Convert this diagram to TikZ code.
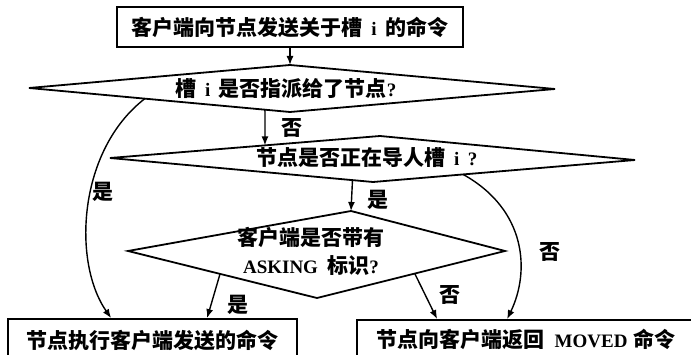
\documentclass[tikz,border=0pt]{standalone}
\usepackage{fontspec}
\setmainfont{Noto Sans CJK SC}
\newfontfamily\latf{Liberation Serif}
\usetikzlibrary{arrows.meta,calc}
\newcommand\myfs{\fontsize{21}{28}\selectfont\bfseries}
\newcommand\lt[1]{{\latf\bfseries\fontsize{19}{28}\selectfont #1}}
\begin{document}
\begin{tikzpicture}[x=1pt,y=-1pt,
  outline/.style={draw=black,line width=1.8pt,line join=miter},
  box/.style={outline,inner sep=0pt},
  txt/.style={inner sep=0pt,font=\myfs},
  conn/.style={line width=1.4pt,-{Latex[length=9pt,width=7pt]}},
  lbl/.style={inner sep=0pt,font=\myfs}]
\useasboundingbox (0,0) rectangle (691,355);
\clip (0,0) rectangle (691,355);
\fill[white] (0,0) rectangle (691,355);

% top box
\node[box,txt,minimum width=346pt,minimum height=40pt] (top) at (290,27)
  {客户端向节点发送关于槽\hspace{.4em}\lt{i}\hspace{.4em}的命令};

% diamond 1
\coordinate (d1t) at (290,65);
\coordinate (d1r) at (555,89);
\coordinate (d1b) at (290,112);
\coordinate (d1l) at (29,88);
\draw[outline] (d1t) -- (d1r) -- (d1b) -- (d1l) -- cycle;
\node[txt] (q1) at (286,89) {槽\hspace{.4em}\lt{i}\hspace{.4em}是否指派给了节点\lt{?}};

% diamond 2
\coordinate (d2t) at (380,136);
\coordinate (d2r) at (635,160);
\coordinate (d2b) at (373,182);
\coordinate (d2l) at (110,158);
\draw[outline] (d2t) -- (d2r) -- (d2b) -- (d2l) -- cycle;
\node[txt] (q2) at (367,158) {节点是否正在导人槽\hspace{.4em}\lt{i}\hspace{.4em}\lt{?}};

% diamond 3
\coordinate (d3t) at (351,211);
\coordinate (d3r) at (505,251);
\coordinate (d3b) at (317,298);
\coordinate (d3l) at (128,251);
\draw[outline] (d3t) -- (d3r) -- (d3b) -- (d3l) -- cycle;
\node[txt,align=center] (q3) at (311,251) {客户端是否带有\\\lt{ASKING}\hspace{.45em}标识\lt{?}};

% bottom boxes
\node[box,txt,minimum width=289pt,minimum height=42pt] (bl) at (152.5,340) {节点执行客户端发送的命令};
\node[box,txt,minimum width=338pt,minimum height=38pt] (br) at (526,339)
  {节点向客户端返回\hspace{.5em}\lt{MOVED}\hspace{.3em}命令};

% connectors
\draw[conn] (top.south) -- (d1t);
\draw[conn] ($(d1l)!0.904!(d1b)$) -- ($(d2l)!0.574!(d2t)$);
\draw[conn] ($(d2l)!0.922!(d2b)$) -- (d3t);
\draw[conn] ($(d3l)!0.487!(d3b)$) -- ($(bl.north west)+(200,0)$);
\draw[conn] ($(d3b)!0.52!(d3r)$) -- ($(br.north west)+(81,0)$);
\draw[conn] ($(d1l)!0.444!(d1b)$) .. controls (78,150) and (72,262) .. ($(bl.north west)+(104,0)$);
\draw[conn] ($(d2b)!0.344!(d2r)$) .. controls (527,210) and (530,272) .. ($(br.north west)+(151,0)$);

% labels
\node[lbl] (l1) at (292,128) {否};
\node[lbl] (l2) at (103,192) {是};
\node[lbl] (l3) at (378,200) {是};
\node[lbl] (l4) at (550,252) {否};
\node[lbl] (l5) at (238,305) {是};
\node[lbl] (l6) at (450,295) {否};
\end{tikzpicture}
\end{document}
